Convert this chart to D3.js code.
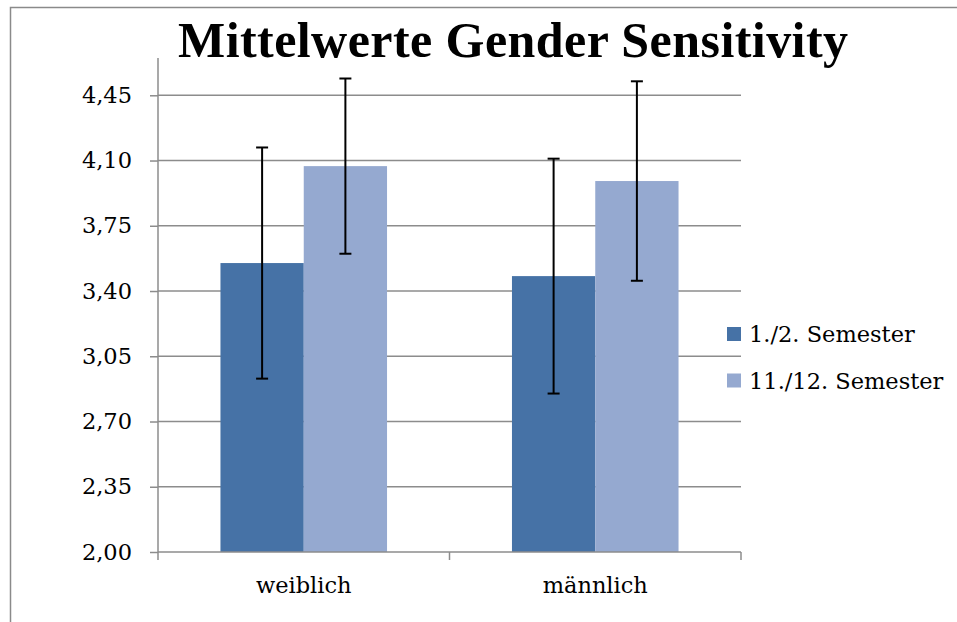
<!DOCTYPE html>
<html><head><meta charset="utf-8">
<script src="https://cdn.jsdelivr.net/npm/d3@7"></script>
<style>
html,body{margin:0;padding:0;background:#fff;overflow:hidden}
text{font-family:"DejaVu Serif","Liberation Serif",serif;fill:#000}
</style></head>
<body>
<svg id="c" width="957" height="622"></svg>
<script>
const categories = ["weiblich", "männlich"];
const seriesNames = ["1./2. Semester", "11./12. Semester"];
const means1 = [3.55, 3.48];
const means2 = [4.07, 3.99];
const err1 = [0.62, 0.63];
const err2 = [0.47, 0.535];
const yTicks = [2.00, 2.35, 2.70, 3.05, 3.40, 3.75, 4.10, 4.45];
const colors = ["#4672A6", "#95A9D0"];
const title = "Mittelwerte Gender Sensitivity";

(function () {
const svg = d3.select("#c");
const pL = 158, pR = 741, pT = 58, pB = 552;
const fs = 22.5;

// outer chart border
svg.append("rect").attr("x", 10.5).attr("y", 7.5).attr("width", 1000).attr("height", 1000)
  .attr("fill", "none").attr("stroke", "#8a8a8a").attr("stroke-width", 1.5);

const y = d3.scaleLinear().domain([2.0, 4.65]).range([pB, pT]);
const x0 = d3.scaleBand().domain(categories).range([pL, pR]).paddingInner(0).paddingOuter(0);
const x1 = d3.scaleBand().domain(seriesNames).range([0, x0.bandwidth()]).paddingInner(0).paddingOuter(0.75);

// gridlines
svg.append("g").selectAll("line").data(yTicks.slice(1)).join("line")
  .attr("x1", pL).attr("x2", pR)
  .attr("y1", d => y(d)).attr("y2", d => y(d))
  .attr("stroke", "#8c8c8c").attr("stroke-width", 1.5);

// y axis
const yAxis = d3.axisLeft(y).tickValues(yTicks).tickSize(8).tickPadding(18)
  .tickFormat(d => d3.format(".2f")(d).replace(".", ","));
const gy = svg.append("g").attr("transform", `translate(${pL},0)`).call(yAxis);
gy.select(".domain").remove();
gy.selectAll(".tick line").attr("stroke", "#8c8c8c").attr("stroke-width", 1.5);
gy.selectAll(".tick text").attr("font-size", fs).attr("font-family", "DejaVu Serif").attr("fill", "#000");
svg.append("line").attr("x1", pL).attr("x2", pL).attr("y1", pT).attr("y2", pB)
  .attr("stroke", "#8c8c8c").attr("stroke-width", 1.5);

// bars
const data = categories.map((c, i) => ({
  cat: c,
  vals: [
    {s: seriesNames[0], v: means1[i], e: err1[i], col: colors[0]},
    {s: seriesNames[1], v: means2[i], e: err2[i], col: colors[1]}
  ]
}));
const groups = svg.append("g").selectAll("g").data(data).join("g")
  .attr("transform", d => `translate(${x0(d.cat)},0)`);
groups.selectAll("rect").data(d => d.vals).join("rect")
  .attr("x", d => x1(d.s)).attr("width", x1.bandwidth())
  .attr("y", d => y(d.v)).attr("height", d => y(2.0) - y(d.v))
  .attr("fill", d => d.col);

// x axis
svg.append("line").attr("x1", pL).attr("x2", pR).attr("y1", pB).attr("y2", pB)
  .attr("stroke", "#8c8c8c").attr("stroke-width", 1.5);
const bounds = categories.map(c => x0(c)).concat([x0(categories[categories.length - 1]) + x0.bandwidth()]);
svg.append("g").selectAll("line").data(bounds).join("line")
  .attr("x1", d => d).attr("x2", d => d).attr("y1", pB).attr("y2", pB + 8)
  .attr("stroke", "#8c8c8c").attr("stroke-width", 1.5);
svg.append("g").selectAll("text").data(categories).join("text")
  .attr("x", d => x0(d) + x0.bandwidth() / 2).attr("y", 593)
  .attr("text-anchor", "middle").attr("font-size", fs).text(d => d);

// error bars
const eb = groups.selectAll("g.eb").data(d => d.vals).join("g").attr("class", "eb");
eb.append("line")
  .attr("x1", d => x1(d.s) + x1.bandwidth() / 2).attr("x2", d => x1(d.s) + x1.bandwidth() / 2)
  .attr("y1", d => y(d.v + d.e)).attr("y2", d => y(d.v - d.e))
  .attr("stroke", "#000").attr("stroke-width", 2);
eb.append("line")
  .attr("x1", d => x1(d.s) + x1.bandwidth() / 2 - 6).attr("x2", d => x1(d.s) + x1.bandwidth() / 2 + 6)
  .attr("y1", d => y(d.v + d.e)).attr("y2", d => y(d.v + d.e))
  .attr("stroke", "#000").attr("stroke-width", 2);
eb.append("line")
  .attr("x1", d => x1(d.s) + x1.bandwidth() / 2 - 6).attr("x2", d => x1(d.s) + x1.bandwidth() / 2 + 6)
  .attr("y1", d => y(d.v - d.e)).attr("y2", d => y(d.v - d.e))
  .attr("stroke", "#000").attr("stroke-width", 2);

// title
svg.append("text").attr("x", 513).attr("y", 57).attr("text-anchor", "middle")
  .style("font-family", "'Liberation Serif', serif")
  .attr("font-size", 50).attr("font-weight", "bold")
  .attr("textLength", 670).attr("lengthAdjust", "spacing").text(title);

// legend
const lg = svg.append("g").selectAll("g").data(seriesNames).join("g")
  .attr("transform", (d, i) => `translate(727,${327 + i * 46.5})`);
lg.append("rect").attr("width", 14).attr("height", 14).attr("fill", (d, i) => colors[i]);
lg.append("text").attr("x", 22).attr("y", 15).attr("font-size", fs).text(d => d);
})();
</script>
</body></html>
